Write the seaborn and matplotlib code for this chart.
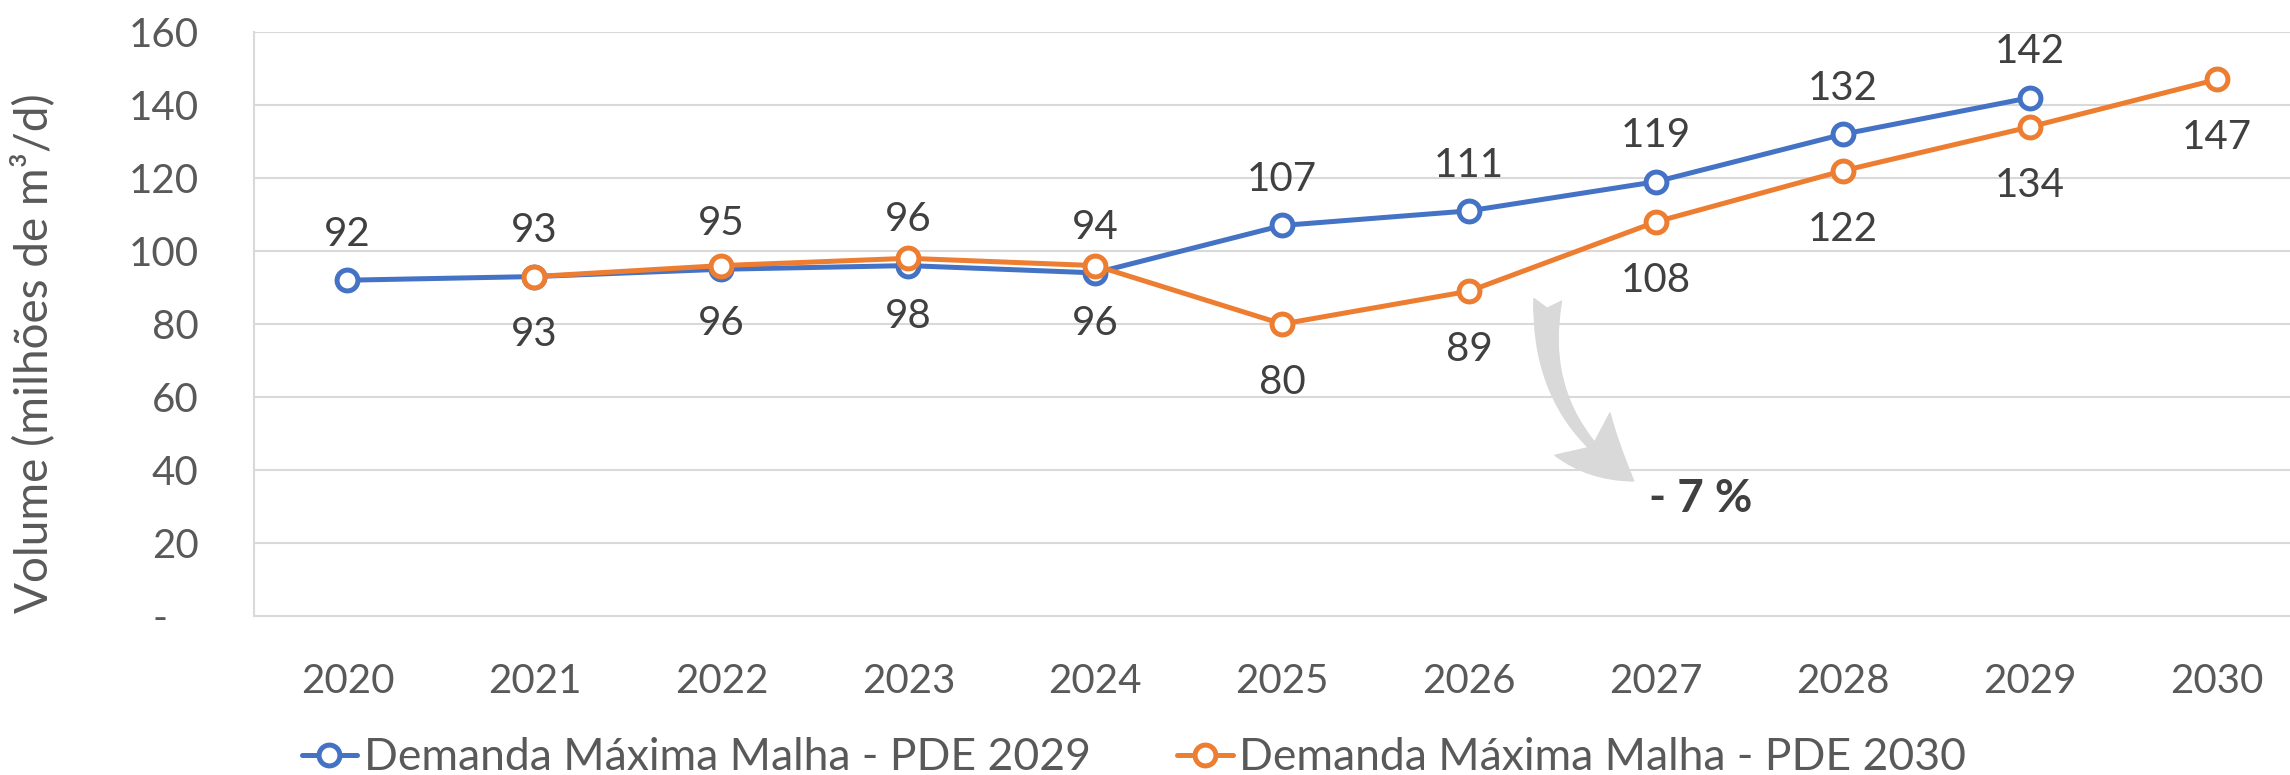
import matplotlib
matplotlib.use("Agg")
import matplotlib.pyplot as plt
import seaborn as sns
import pandas as pd
from matplotlib.lines import Line2D

# Data
years_2029 = [2020, 2021, 2022, 2023, 2024, 2025, 2026, 2027, 2028, 2029]
demand_2029 = [92, 93, 95, 96, 94, 107, 111, 119, 132, 142]
years_2030 = [2021, 2022, 2023, 2024, 2025, 2026, 2027, 2028, 2029, 2030]
demand_2030 = [93, 96, 98, 96, 80, 89, 108, 122, 134, 147]
series_names = ["Demanda Máxima Malha - PDE 2029", "Demanda Máxima Malha - PDE 2030"]
x_ticks = list(range(2020, 2031))
y_ticks = [0, 20, 40, 60, 80, 100, 120, 140, 160]
y_tick_labels = ["-   ", "20", "40", "60", "80", "100", "120", "140", "160"]
y_label = "Volume (milhões de m³/d)"
note_text = "- 7 %"

BLUE = "#4472C4"
ORANGE = "#ED7D31"
GRID = "#D9D9D9"
TICK_C = "#595959"
LABEL_C = "#404040"

sns.set_theme(style="white")
plt.rcParams["font.family"] = ["Lato", "DejaVu Sans"]

df = pd.concat([
    pd.DataFrame({"ano": years_2029, "volume": demand_2029, "serie": series_names[0]}),
    pd.DataFrame({"ano": years_2030, "volume": demand_2030, "serie": series_names[1]}),
])

fig = plt.figure(figsize=(22.9, 7.75), dpi=100)
ax = fig.add_axes([254 / 2290, 159 / 775, (2290 - 254) / 2290, 584 / 775])

colors = {series_names[0]: BLUE, series_names[1]: ORANGE}
for name in series_names:
    sub = df[df["serie"] == name]
    sns.lineplot(data=sub, x="ano", y="volume", ax=ax, color=colors[name],
                 linewidth=3.6, marker="o", markersize=15,
                 markerfacecolor="white", markeredgecolor=colors[name],
                 markeredgewidth=3.6, label=name, legend=False, zorder=3)

# data labels: PDE 2029 above, PDE 2030 below
for x, v in zip(years_2029, demand_2029):
    ax.annotate(f"{v:.0f}", (x, v), xytext=(0, 33), textcoords="offset points",
                ha="center", va="center", fontsize=29, color=LABEL_C)
for x, v in zip(years_2030, demand_2030):
    ax.annotate(f"{v:.0f}", (x, v), xytext=(0, -42), textcoords="offset points",
                ha="center", va="center", fontsize=29, color=LABEL_C)

# curved arrow + note
ax.annotate("", xy=(2026.88, 37.0), xytext=(2026.42, 86.6),
            arrowprops=dict(arrowstyle="fancy,head_length=1.0,head_width=1.0,tail_width=0.4",
                            connectionstyle="arc3,rad=0.3", color=GRID,
                            mutation_scale=50, shrinkA=0, shrinkB=0), zorder=1)
ax.text(2026.96, 32.0, note_text, fontsize=33, fontweight="bold", color=LABEL_C,
        ha="left", va="center")

ax.set_xlim(2019.5, 2020 + (2290 - 347) / 187)
ax.set_ylim(0, 160)
ax.set_xticks(x_ticks)
ax.set_xticklabels([str(y) for y in x_ticks])
ax.set_yticks(y_ticks)
ax.set_yticklabels(y_tick_labels)
ax.tick_params(axis="x", length=0, pad=34, labelsize=29, labelcolor=TICK_C)
ax.tick_params(axis="y", length=0, pad=40, labelsize=29, labelcolor=TICK_C)
ax.grid(axis="y", color=GRID, linewidth=1.5)
ax.grid(axis="x", visible=False)
ax.set_xlabel("")
ax.set_ylabel(y_label, fontsize=33, color=TICK_C)
ax.yaxis.label.set_va("center")
ax.yaxis.set_label_coords((33 - 254) / 2036, 0.45)
for side in ["top", "right"]:
    ax.spines[side].set_visible(False)
for side in ["left", "bottom"]:
    ax.spines[side].set_color(GRID)
    ax.spines[side].set_linewidth(1.5)

handles = [Line2D([], [], color=colors[n], linewidth=3.6, marker="o", markersize=15,
                  markerfacecolor="white", markeredgecolor=colors[n], markeredgewidth=3.6)
           for n in series_names]
fig.legend(handles, series_names, loc="center", bbox_to_anchor=(1134 / 2290, 17 / 775),
           ncol=2, frameon=False, fontsize=32, labelcolor=TICK_C,
           handlelength=1.25, handletextpad=0.15, columnspacing=1.95)

fig.savefig("out.png", dpi=100)
